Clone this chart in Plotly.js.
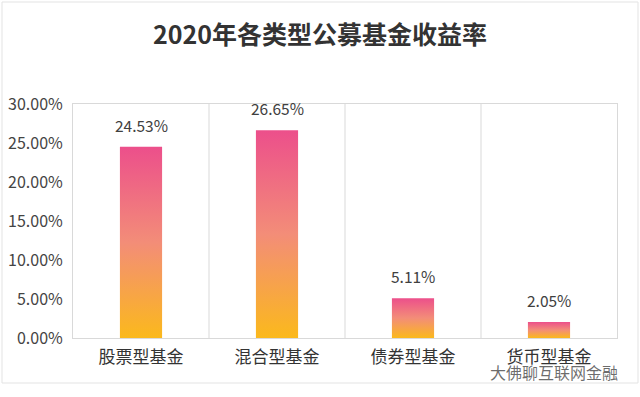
<!DOCTYPE html>
<html>
<head>
<meta charset="utf-8">
<script src="https://cdn.plot.ly/plotly-3.0.1.min.js"></script>
<style>
html,body{margin:0;padding:0;background:#fff;}
#chart{width:640px;height:397px;}
</style>
</head>
<body>
<div id="chart"></div>
<script>
const categories = ['股票型基金', '混合型基金', '债券型基金', '货币型基金'];
const returns = [24.53, 26.65, 5.11, 2.05];
const valueLabels = ['24.53%', '26.65%', '5.11%', '2.05%'];
const yTicks = [0, 5, 10, 15, 20, 25, 30];
const yTickLabels = ['0.00%', '5.00%', '10.00%', '15.00%', '20.00%', '25.00%', '30.00%'];

const FONT = '"Noto Sans CJK SC", "Noto Sans", sans-serif';
const GRID = '#d9d9d9';

const trace = {
  type: 'bar',
  x: categories,
  y: returns,
  width: 0.31,
  marker: {color: '#f28c7a', line: {width: 0}},
  hoverinfo: 'none'
};

const annotations = categories.map((c, i) => ({
  x: c, y: returns[i], xref: 'x', yref: 'y',
  text: valueLabels[i], showarrow: false,
  yanchor: 'bottom', yshift: 9,
  font: {family: FONT, size: 15.5, color: '#404040'}
}));
annotations.push({
  xref: 'paper', yref: 'paper', x: 1.005, y: -0.145,
  xanchor: 'right', yanchor: 'middle',
  text: '大佛聊互联网金融', showarrow: false,
  font: {family: FONT, size: 16, color: 'rgba(60,60,60,0.75)'}
});

const shapes = [];
for (let i = 0; i < categories.length - 1; i++) {
  shapes.push({type: 'line', xref: 'x', yref: 'paper', x0: i + 0.5, x1: i + 0.5, y0: 0, y1: 1,
               line: {color: GRID, width: 1}});
}
shapes.push({type: 'rect', xref: 'paper', yref: 'paper', x0: -0.1305, x1: 1.0386, y0: -0.1923, y1: 1.4359,
             line: {color: '#e3e3e3', width: 1}, layer: 'below'});

const layout = {
  width: 640, height: 397,
  margin: {l: 73, r: 23, t: 104, b: 59},
  paper_bgcolor: '#ffffff', plot_bgcolor: '#ffffff',
  title: {text: '<b>2020年各类型公募基金收益率</b>', x: 0.5, xanchor: 'center', y: 0.912, yanchor: 'middle',
          font: {family: FONT, size: 25, color: '#333333'}},
  xaxis: {
    type: 'category', showgrid: false, zeroline: false,
    showline: true, mirror: true, linecolor: GRID, linewidth: 1,
    ticks: '', ticklabelstandoff: 4,
    tickfont: {family: FONT, size: 17, color: '#333333'},
    range: [-0.5, 3.5]
  },
  yaxis: {
    range: [0, 30], tickvals: yTicks, ticktext: yTickLabels,
    showgrid: false, zeroline: false,
    showline: true, mirror: true, linecolor: GRID, linewidth: 1,
    ticks: '', ticklabelstandoff: 6,
    tickfont: {family: FONT, size: 16, color: '#444444'}
  },
  showlegend: false,
  annotations: annotations,
  shapes: shapes
};

Plotly.newPlot('chart', [trace], layout, {staticPlot: true, displayModeBar: false}).then(function (gd) {
  const svg = gd.querySelector('svg.main-svg');
  const NS = 'http://www.w3.org/2000/svg';
  let defs = svg.querySelector('defs');
  if (!defs) { defs = document.createElementNS(NS, 'defs'); svg.insertBefore(defs, svg.firstChild); }
  const grad = document.createElementNS(NS, 'linearGradient');
  grad.setAttribute('id', 'barGrad');
  grad.setAttribute('x1', '0'); grad.setAttribute('y1', '0');
  grad.setAttribute('x2', '0'); grad.setAttribute('y2', '1');
  [['0', '#ec4f8b'], ['0.5', '#f38d78'], ['1', '#fbb91c']].forEach(function (s) {
    const st = document.createElementNS(NS, 'stop');
    st.setAttribute('offset', s[0]); st.setAttribute('stop-color', s[1]);
    grad.appendChild(st);
  });
  defs.appendChild(grad);
  gd.querySelectorAll('.barlayer .point path').forEach(function (p) {
    p.style.fill = 'url(#barGrad)';
  });
});
</script>
</body>
</html>
